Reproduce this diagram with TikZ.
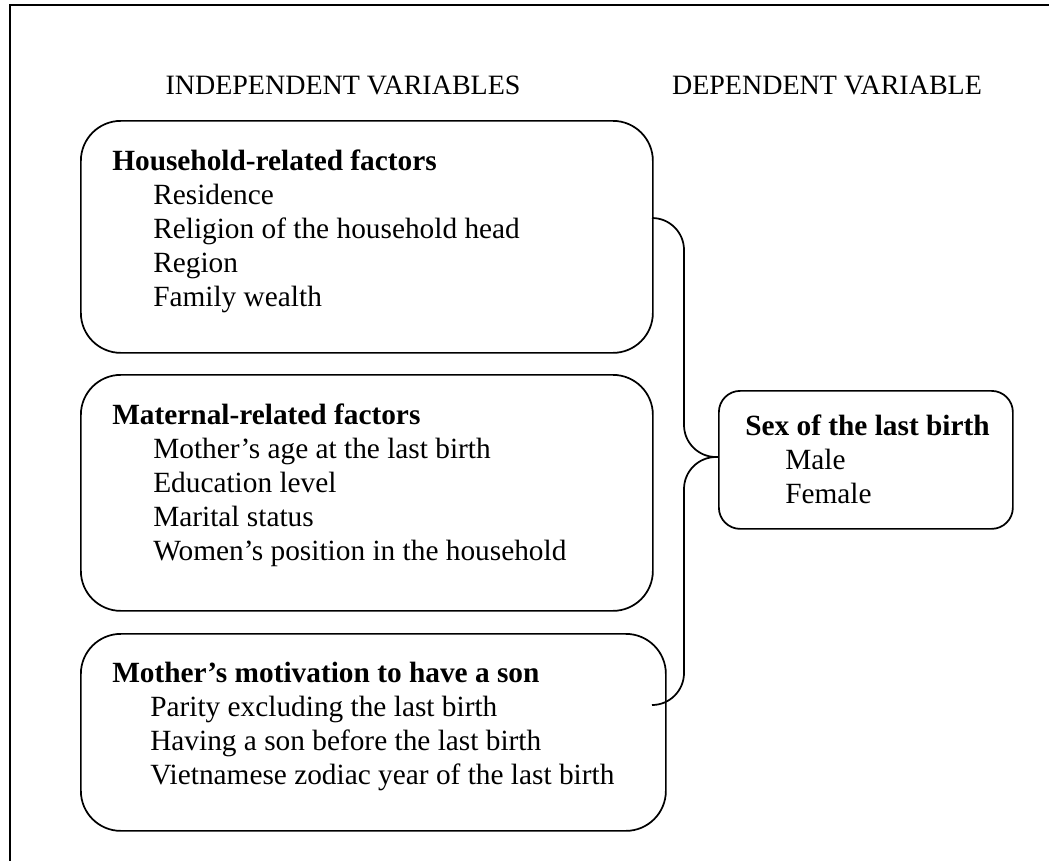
\documentclass[tikz,border=0pt]{standalone}
\usepackage{fontspec}
\setmainfont{Liberation Serif}
\usetikzlibrary{positioning}

\begin{document}
\begin{tikzpicture}[
  x=0.75pt, y=-0.75pt,
  every node/.style={font=\fontsize{22}{25.5}\selectfont, inner sep=0pt},
  factor/.style={draw, line width=1.3pt, rounded corners=30pt, anchor=north west},
  outcome/.style={factor, rounded corners=16pt},
  content/.style={anchor=north west, align=left},
  heading/.style={anchor=base, font=\fontsize{21}{25.5}\selectfont},
  brace/.style={draw, line width=1.3pt, rounded corners=24pt}
]
  \useasboundingbox (0,0) rectangle (1049,861);
  % frame
  \draw[line width=1.3pt] (1049,5) -- (10,5) -- (10,861);

  % headings
  \node[heading] (indep) at (343,94) {INDEPENDENT VARIABLES};
  \node[heading] (dep) at (827,94) {DEPENDENT VARIABLE};

  % boxes
  \node[factor, minimum width=429pt, minimum height=174pt] (house) at (80,120) {};
  \node[factor, minimum width=429pt, minimum height=177pt] (mat) at (80,374) {};
  \node[factor, minimum width=438.75pt, minimum height=147.75pt] (motive) at (80,633) {};
  \node[outcome, minimum width=220.5pt, minimum height=103.5pt] (sex) at (718,390) {};

  % box texts
  \node[content, below right=22pt and 24pt of house.north west] (housetxt)
    {\textbf{Household-related factors}\\
     \hspace*{30.75pt}Residence\\
     \hspace*{30.75pt}Religion of the household head\\
     \hspace*{30.75pt}Region\\
     \hspace*{30.75pt}Family wealth};
  \node[content, below right=22pt and 24pt of mat.north west] (mattxt)
    {\textbf{Maternal-related factors}\\
     \hspace*{30.75pt}Mother’s age at the last birth\\
     \hspace*{30.75pt}Education level\\
     \hspace*{30.75pt}Marital status\\
     \hspace*{30.75pt}Women’s position in the household};
  \node[content, below right=22pt and 24pt of motive.north west] (motivetxt)
    {\textbf{Mother’s motivation to have a son}\\
     \hspace*{28.5pt}Parity excluding the last birth\\
     \hspace*{28.5pt}Having a son before the last birth\\
     \hspace*{28.5pt}Vietnamese zodiac year of the last birth};
  \node[content, below right=18.5pt and 20.25pt of sex.north west] (sextxt)
    {\textbf{Sex of the last birth}\\
     \hspace*{30pt}Male\\
     \hspace*{30pt}Female};

  % brace
  \coordinate (houseend) at (652,218);
  \coordinate (motiveend) at (652,705);
  \coordinate (tip) at ([yshift=-50.25pt]sex.north west);
  \coordinate (mid) at ([xshift=-25.5pt]tip);
  \path[brace] (houseend) -| (mid) -- (tip);
  \path[brace] (tip) -- (mid) |- (motiveend);
\end{tikzpicture}
\end{document}
